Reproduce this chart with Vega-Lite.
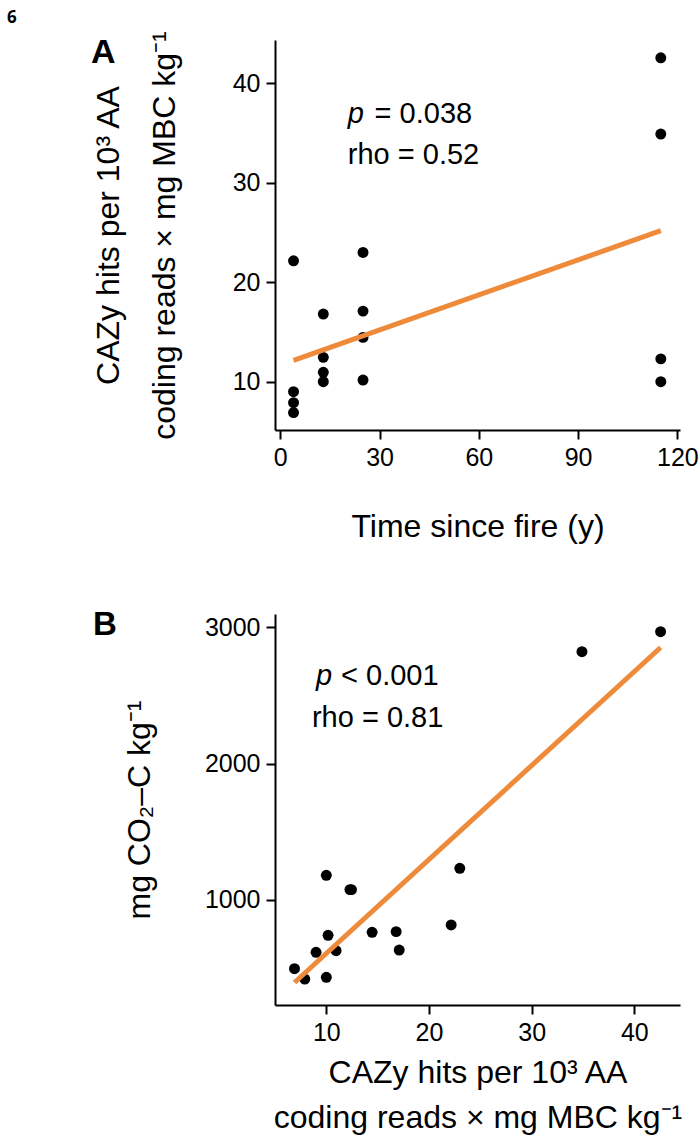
{
  "$schema": "https://vega.github.io/schema/vega-lite/v6.json",
  "padding": {"left": 7, "top": 8, "right": 5, "bottom": 3},
  "background": "white",
  "title": {"text": "6", "anchor": "start", "frame": "bounds", "fontSize": 17, "fontWeight": "bold", "font": "Open Sans", "color": "black", "dx": -84, "offset": 4},
  "datasets": {
    "samples": [
      {"time": 4, "cazy": 22.16, "co2": 817},
      {"time": 4, "cazy": 9.0, "co2": 616},
      {"time": 4, "cazy": 7.9, "co2": 420},
      {"time": 4, "cazy": 6.9, "co2": 496},
      {"time": 13, "cazy": 16.8, "co2": 768},
      {"time": 13, "cazy": 12.45, "co2": 1076},
      {"time": 13, "cazy": 10.95, "co2": 628},
      {"time": 13, "cazy": 10.0, "co2": 1181},
      {"time": 25, "cazy": 23.0, "co2": 1232},
      {"time": 25, "cazy": 17.1, "co2": 633},
      {"time": 25, "cazy": 14.46, "co2": 763},
      {"time": 25, "cazy": 10.17, "co2": 741},
      {"time": 115, "cazy": 42.56, "co2": 2968},
      {"time": 115, "cazy": 34.9, "co2": 2821},
      {"time": 115, "cazy": 12.3, "co2": 1076},
      {"time": 115, "cazy": 10.0, "co2": 433}
    ]
  },
  "spacing": 66,
  "vconcat": [
    {
      "width": 405,
      "height": 390,
      "layer": [
        {
          "data": {"name": "samples"},
          "mark": {"type": "circle", "size": 120, "color": "black", "opacity": 1},
          "encoding": {
            "x": {"field": "time", "type": "quantitative", "scale": {"domain": [-1.6, 120.8], "nice": false, "zero": false},
                  "axis": {"values": [0, 30, 60, 90, 120], "title": "Time since fire (y)", "titlePadding": 41}},
            "y": {"field": "cazy", "type": "quantitative", "scale": {"domain": [5.15, 44.35], "nice": false, "zero": false},
                  "axis": {"values": [10, 20, 30, 40], "title": ["CAZy hits per 10³ AA", "coding reads × mg MBC kg⁻¹"], "titlePadding": 51, "titleLineHeight": 56}}
          }
        },
        {
          "data": {"name": "samples"},
          "transform": [{"regression": "cazy", "on": "time"}],
          "mark": {"type": "line", "color": "#EE8B3B", "strokeWidth": 5},
          "encoding": {
            "x": {"field": "time", "type": "quantitative"},
            "y": {"field": "cazy", "type": "quantitative"}
          }
        },
        {
          "data": {"values": [{"time": 20.4, "cazy": 35.97, "label": "p"}]},
          "mark": {"type": "text", "fontStyle": "italic", "fontSize": 29, "align": "left", "baseline": "alphabetic", "font": "Liberation Sans", "color": "black"},
          "encoding": {"x": {"field": "time", "type": "quantitative"}, "y": {"field": "cazy", "type": "quantitative"}, "text": {"field": "label"}}
        },
        {
          "data": {"values": [{"time": 28.5, "cazy": 35.97, "label": "= 0.038"}, {"time": 20.4, "cazy": 31.88, "label": "rho = 0.52"}]},
          "mark": {"type": "text", "fontSize": 29, "align": "left", "baseline": "alphabetic", "font": "Liberation Sans", "color": "black"},
          "encoding": {"x": {"field": "time", "type": "quantitative"}, "y": {"field": "cazy", "type": "quantitative"}, "text": {"field": "label"}}
        },
        {
          "data": {"values": [{"time": -57.2, "cazy": 42.0, "label": "A"}]},
          "mark": {"type": "text", "fontSize": 34, "fontWeight": "bold", "align": "left", "baseline": "alphabetic", "font": "Liberation Sans", "color": "black"},
          "encoding": {"x": {"field": "time", "type": "quantitative"}, "y": {"field": "cazy", "type": "quantitative"}, "text": {"field": "label"}}
        }
      ]
    },
    {
      "width": 405,
      "height": 391,
      "layer": [
        {
          "data": {"name": "samples"},
          "mark": {"type": "circle", "size": 120, "color": "black", "opacity": 1},
          "encoding": {
            "x": {"field": "cazy", "type": "quantitative", "scale": {"domain": [5.0, 44.45], "nice": false, "zero": false},
                  "axis": {"values": [10, 20, 30, 40], "title": ["CAZy hits per 10³ AA", "coding reads × mg MBC kg⁻¹"], "titlePadding": 12, "titleLineHeight": 45}},
            "y": {"field": "co2", "type": "quantitative", "scale": {"domain": [229.7, 3097.6], "nice": false, "zero": false},
                  "axis": {"values": [1000, 2000, 3000], "format": "d", "title": "mg CO₂–C kg⁻¹", "titlePadding": 48}}
          }
        },
        {
          "data": {"name": "samples"},
          "transform": [{"regression": "co2", "on": "cazy"}],
          "mark": {"type": "line", "color": "#EE8B3B", "strokeWidth": 5},
          "encoding": {
            "x": {"field": "cazy", "type": "quantitative"},
            "y": {"field": "co2", "type": "quantitative"}
          }
        },
        {
          "data": {"values": [{"cazy": 9.0, "co2": 2577, "label": "p"}]},
          "mark": {"type": "text", "fontStyle": "italic", "fontSize": 29, "align": "left", "baseline": "alphabetic", "font": "Liberation Sans", "color": "black"},
          "encoding": {"x": {"field": "cazy", "type": "quantitative"}, "y": {"field": "co2", "type": "quantitative"}, "text": {"field": "label"}}
        },
        {
          "data": {"values": [{"cazy": 11.43, "co2": 2577, "label": "< 0.001"}, {"cazy": 8.6, "co2": 2271, "label": "rho = 0.81"}]},
          "mark": {"type": "text", "fontSize": 29, "align": "left", "baseline": "alphabetic", "font": "Liberation Sans", "color": "black"},
          "encoding": {"x": {"field": "cazy", "type": "quantitative"}, "y": {"field": "co2", "type": "quantitative"}, "text": {"field": "label"}}
        },
        {
          "data": {"values": [{"cazy": -12.72, "co2": 2944, "label": "B"}]},
          "mark": {"type": "text", "fontSize": 33, "fontWeight": "bold", "align": "left", "baseline": "alphabetic", "font": "Liberation Sans", "color": "black"},
          "encoding": {"x": {"field": "cazy", "type": "quantitative"}, "y": {"field": "co2", "type": "quantitative"}, "text": {"field": "label"}}
        }
      ]
    }
  ],
  "config": {
    "view": {"stroke": null},
    "font": "Liberation Sans",
    "axis": {
      "grid": false,
      "domainColor": "black",
      "domainWidth": 2,
      "tickColor": "black",
      "tickWidth": 2,
      "tickSize": 9,
      "labelFont": "Liberation Sans",
      "labelFontSize": 25,
      "labelColor": "black",
      "labelPadding": 6,
      "labelFlush": false,
      "labelOverlap": false,
      "titleFont": "Liberation Sans",
      "titleFontSize": 32,
      "titleFontWeight": "normal",
      "titleColor": "black"
    }
  }
}
